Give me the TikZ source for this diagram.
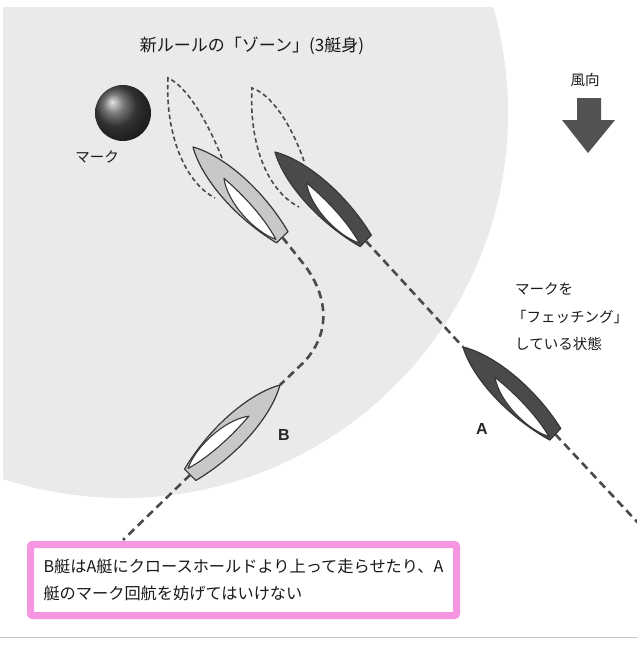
\documentclass[tikz,border=0pt]{standalone}
\usepackage{fontspec}
\setmainfont{Noto Sans CJK JP}
\newfontfamily\letterfont{Liberation Sans}
\definecolor{zonegray}{HTML}{EAEAEA}
\definecolor{hullline}{HTML}{363636}
\definecolor{lighthull}{HTML}{C8C8C8}
\definecolor{darkhull}{HTML}{4A4A4A}
\definecolor{trackgray}{HTML}{4A4A4A}
\definecolor{markerpink}{RGB}{246,150,226}
% one yacht: name, bow x, bow y, heading angle, hull colour
\newcommand\drawyacht[5]{%
  \begin{scope}[shift={(#2,#3)},rotate=#4]
    \coordinate (#1-bow) at (0,0);
    \coordinate (#1-stern) at (127,0);
    \filldraw[hull,fill=#5] (0,0) .. controls (28,16) and (80,20) .. (127,8)
      -- (127,-8) .. controls (80,-20) and (28,-16) .. (0,0) -- cycle;
    \filldraw[cockpit] (44,0) .. controls (64,15) and (104,16) .. (124,6)
      .. controls (100,-1) and (70,-2) .. (44,0) -- cycle;
  \end{scope}}
\begin{document}
\begin{tikzpicture}[x=1pt,y=-1pt,
  hull/.style={draw=hullline,line width=1.2pt,line join=round},
  cockpit/.style={draw=hullline,fill=white,line width=1.1pt,line join=round},
  track/.style={draw=trackgray,line width=2.6pt,dash pattern=on 8pt off 5pt},
  ghost/.style={draw=trackgray,line width=1.6pt,dash pattern=on 4.5pt off 3pt},
  jp/.style={font=\fontsize{14.5}{27.5}\selectfont,text=black!90,inner sep=0pt},
  boatlabel/.style={font=\letterfont\bfseries\fontsize{16}{16}\selectfont,text=black!85,inner sep=0pt},
  notebox/.style={draw=markerpink,line width=7pt,rounded corners=2pt,fill=white,
    minimum width=426pt,minimum height=71pt,inner xsep=13pt,inner ysep=0pt,
    align=left,text width=400pt,font=\fontsize{16.2}{27}\selectfont,text=black!90}]
\useasboundingbox (0,0) rectangle (637,648);
\fill[white] (0,0) rectangle (637,648);
% the three-length zone round the mark
\begin{scope}
  \clip (3,7) rectangle (637,648);
  \fill[zonegray] (123,113) circle[radius=385];
\end{scope}
\draw[gray!45,line width=1pt] (0,637) -- (637,637);

% title
\node[jp,font=\fontsize{17}{17}\selectfont] (title) at (252,46) {新ルールの「ゾーン」(3艇身)};

% the mark
\node[circle,minimum size=56pt,inner sep=0pt,shading=ball,ball color=black!72] (mark) at (123,113) {};
\node[jp] (marklabel) at (97,157) {マーク};

% wind direction
\node[jp] (windlabel) at (585,80) {風向};
\fill[black!68] (577,98) -- (601,98) -- (601,120) -- (615,120) -- (588,153)
  -- (562,120) -- (577,120) -- cycle;

% the yachts
\drawyacht{Bup}{193}{147}{-45.3}{lighthull}
\drawyacht{Aup}{275}{152}{-44.4}{darkhull}
\drawyacht{Alow}{463}{347}{-43.4}{darkhull}
\drawyacht{Blow}{280}{385}{-135}{lighthull}

% luffing outlines ahead of the upper yachts
\draw[ghost] (222,158) .. controls (206,118) and (186,86) .. (168,78)
  .. controls (165,132) and (184,182) .. (215,198);
\draw[ghost] (304,161) .. controls (290,121) and (270,94) .. (252,88)
  .. controls (249,142) and (266,190) .. (299,207);

% tracks
\draw[track] (Bup-stern) -- (302,262) .. controls (325,290) and (335,330) .. (303,363) -- (Blow-bow);
\coordinate (Bend) at (123,540);
\draw[track] (Blow-stern) -- (Bend);
\draw[track] (Aup-stern) -- (Alow-bow);
\coordinate (Aend) at (640,525);
\draw[track] (Alow-stern) -- (Aend);

% labels
\node[boatlabel] (labB) at (284,435) {B};
\node[boatlabel] (labA) at (482,429) {A};
\node[jp,align=left,anchor=north west] (fetch) at (512,283)
  {\hspace{3pt}マークを\\「フェッチング」\\\hspace{3pt}している状態};

% note
\node[notebox,anchor=north west] (note) at (27,541)
  {B艇はA艇にクロースホールドより上って走らせたり、A\\艇のマーク回航を妨げてはいけない};
\end{tikzpicture}
\end{document}
